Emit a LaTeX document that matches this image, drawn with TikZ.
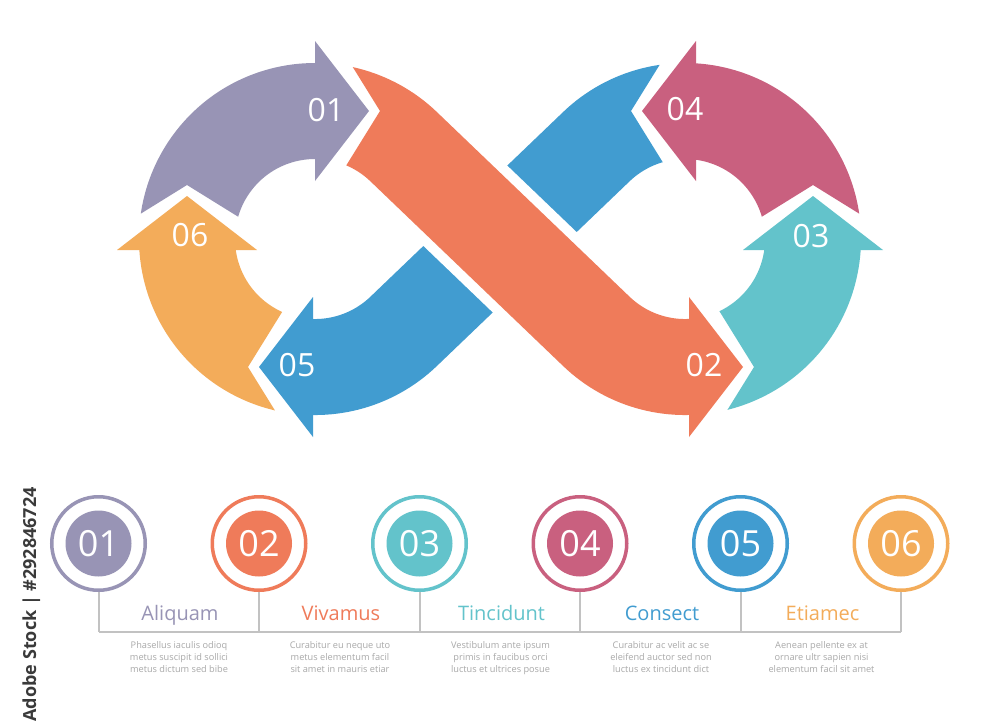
\documentclass[tikz,border=0pt]{standalone}
\usepackage{fontspec}
\setmainfont{Open Sans}
\definecolor{cpur}{HTML}{9894B5}
\definecolor{cora}{HTML}{EF7B5A}
\definecolor{cteal}{HTML}{63C3CB}
\definecolor{cpink}{HTML}{C9607F}
\definecolor{cblue}{HTML}{419CD0}
\definecolor{cyel}{HTML}{F3AC5A}
\definecolor{cdesc}{HTML}{A9A9A9}
\definecolor{cline}{HTML}{C2C2C2}
\definecolor{cwm}{HTML}{3A3A3A}
\begin{document}
\begin{tikzpicture}[x=1pt,y=-1pt,
  band/.style={line width=96pt},
  num/.style={text=white,font=\fontsize{32}{32}\selectfont,inner sep=0pt},
  ring/.style={circle,draw=#1,line width=3.5pt,minimum size=93.5pt,inner sep=0pt,fill=white},
  disk/.style={circle,fill=#1,minimum size=66pt,inner sep=0pt,text=white,font=\fontsize{36}{36}\selectfont},
  rule/.style={draw=cline,line width=2pt},
  ttl/.style={font=\fontsize{20}{24}\selectfont,anchor=base,inner sep=0pt},
  desc/.style={font=\fontsize{9.2}{12}\selectfont,text=cdesc,align=center,anchor=north,inner sep=0pt}]
\useasboundingbox (0,0) rectangle (1000,726);
\fill[white] (0,0) rectangle (1000,726);

% ---- blue 05 (behind the crossing)
\begin{scope}
\clip (755,-89) -- (631,111) -- (755,311) -- (755,600) -- (313,600) -- (313,-89) -- cycle;
\draw[cblue,band] (685,239) ++(-75:128) arc[start angle=-75,end angle=-133.78,radius=128]
  -- (403.56,331.44) arc[start angle=46.22,end angle=105,radius=128];
\end{scope}
\fill[cblue] (313,297) -- (259,367) -- (313,437) -- cycle;

% ---- white gap at the crossing
\draw[white,line width=116pt] (403.56,146.56) -- (596.44,331.44);

% ---- orange S band 02
\begin{scope}
\clip (256,-89) -- (380,111) -- (256,311) -- (256,600) -- (689,600) -- (689,-89) -- cycle;
\draw[cora,band] (315,239) ++(255:128) arc[start angle=255,end angle=313.78,radius=128]
  -- (596.44,331.44) arc[start angle=133.78,end angle=75,radius=128];
\end{scope}
\fill[cora] (689,297) -- (743,367) -- (689,437) -- cycle;

% ---- purple 01
\begin{scope}
\clip (315,264.4) -- (187,185) -- (-13,309) -- (-13,-100) -- (315,-100) -- cycle;
\draw[cpur,band] (315,239) ++(165:128) arc[start angle=165,end angle=285,radius=128];
\end{scope}
\fill[cpur] (315,41) -- (369,111) -- (315,181) -- cycle;

% ---- teal 03
\begin{scope}
\clip (681.5,250) -- (754,367) -- (630,567) -- (1100,567) -- (1100,250) -- cycle;
\draw[cteal,band] (685,239) ++(105:128) arc[start angle=105,end angle=-15,radius=128];
\end{scope}
\fill[cteal] (743,250) -- (813,196) -- (883,250) -- cycle;

% ---- pink 04
\begin{scope}
\clip (696,257.5) -- (813,185) -- (1013,309) -- (1013,-100) -- (696,-100) -- cycle;
\draw[cpink,band] (685,239) ++(15:128) arc[start angle=15,end angle=-105,radius=128];
\end{scope}
\fill[cpink] (696,41) -- (642,111) -- (696,181) -- cycle;

% ---- yellow 06
\begin{scope}
\clip (320.5,250) -- (248,367) -- (372,567) -- (-100,567) -- (-100,250) -- cycle;
\draw[cyel,band] (315,239) ++(75:128) arc[start angle=75,end angle=195,radius=128];
\end{scope}
\fill[cyel] (117,250) -- (187,196) -- (257,250) -- cycle;

% ---- numbers on the arrows
\node[num] (a1) at (326,110) {01};
\node[num] (a2) at (704,365) {02};
\node[num] (a3) at (811,236) {03};
\node[num] (a4) at (685,109) {04};
\node[num] (a5) at (297,365) {05};
\node[num] (a6) at (190,235) {06};

% ---- bottom timeline
\coordinate (b1) at (98.5,632);
\coordinate (b2) at (259,632);
\coordinate (b3) at (419.5,632);
\coordinate (b4) at (580,632);
\coordinate (b5) at (740.5,632);
\coordinate (b6) at (901,632);
\draw[rule] (b1) -- (b6);
\node[ring=cpur]  (r1) at (98.5,543.5) {};
\node[ring=cora]  (r2) at (259,543.5) {};
\node[ring=cteal] (r3) at (419.5,543.5) {};
\node[ring=cpink] (r4) at (580,543.5) {};
\node[ring=cblue] (r5) at (740.5,543.5) {};
\node[ring=cyel]  (r6) at (901,543.5) {};
\foreach \i in {1,...,6} {\draw[rule] (r\i.south) -- (b\i);}
\node[disk=cpur]  (d1) at (r1) {01};
\node[disk=cora]  (d2) at (r2) {02};
\node[disk=cteal] (d3) at (r3) {03};
\node[disk=cpink] (d4) at (r4) {04};
\node[disk=cblue] (d5) at (r5) {05};
\node[disk=cyel]  (d6) at (r6) {06};

\node[ttl,text=cpur]  (t1) at (180,620) {Aliquam};
\node[ttl,text=cora]  (t2) at (341,620) {Vivamus};
\node[ttl,text=cteal] (t3) at (501.5,620) {Tincidunt};
\node[ttl,text=cblue] (t4) at (662,620) {Consect};
\node[ttl,text=cyel]  (t5) at (822.5,620) {Etiamec};

\node[desc] (p1) at (179,641.5) {Phasellus iaculis odioq\\metus suscipit id sollici\\metus dictum sed bibe};
\node[desc] (p2) at (340,641.5) {Curabitur eu neque uto\\metus elementum facil\\sit amet in mauris etiar};
\node[desc] (p3) at (500.5,641.5) {Vestibulum ante ipsum\\primis in faucibus orci\\luctus et ultrices posue};
\node[desc] (p4) at (661,641.5) {Curabitur ac velit ac se\\eleifend auctor sed non\\luctus ex tincidunt dict};
\node[desc] (p5) at (821.5,641.5) {Aenean pellente ex at\\ornare ultr sapien nisi\\elementum facil sit amet};

% ---- vertical stock label
\node[rotate=90,anchor=base east,inner sep=0pt,text=cwm,font=\fontsize{18}{18}\selectfont\bfseries] (wm) at (36,487) {Adobe Stock | \#292846724};
\end{tikzpicture}
\end{document}
